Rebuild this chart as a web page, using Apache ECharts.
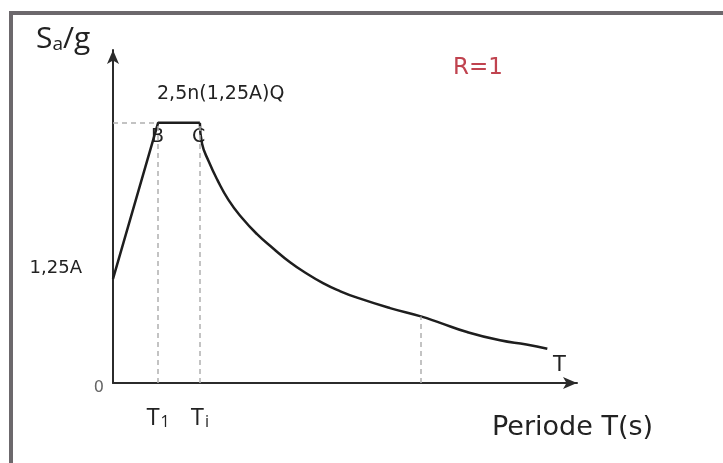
<!DOCTYPE html>
<html>
<head>
<meta charset="utf-8">
<script src="https://cdn.jsdelivr.net/npm/echarts@6/dist/echarts.min.js"></script>
<style>
  html, body { margin: 0; padding: 0; background: #fff; }
  #main { width: 723px; height: 463px; }
</style>
</head>
<body>
<div id="main"></div>
<script>
// spectre de réponse, R=1 (unités arbitraires)
var T1 = 0.41, Ti = 0.79, Tk = 2.8;
var plateau = 2.5;

// montée 0 -> B -> C
var riseT = [0, T1, Ti];
var riseSa = [1.0, plateau, plateau];

// branche descendante après C
var decayT = [0.79, 0.81, 0.87, 0.95, 1.05, 1.17, 1.31, 1.46, 1.61, 1.75, 1.91, 2.06, 2.22, 2.52, 2.8, 2.97, 3.22, 3.52, 3.76, 3.95];
var decaySa = [2.5, 2.3, 2.13, 1.95, 1.76, 1.59, 1.43, 1.29, 1.16, 1.06, 0.96, 0.885, 0.82, 0.72, 0.64, 0.58, 0.49, 0.41, 0.37, 0.33];

// repères des axes
var xTickValues = [T1, Ti];
var xTickLabels = ['{t|T}{s|1}', '{t|T}{s|i}'];
var yTickValues = [0, 1.0];
var yTickLabels = ['{z|0}', '{a|1,25A}'];

function pairs (xs, ys) {
  return xs.map(function (x, i) { return [x, ys[i]]; });
}

var font = 'Open Sans';
var wide = 'DejaVu Sans';
var chart = echarts.init(document.getElementById('main'));

var option = {
  backgroundColor: '#fff',
  animation: false,
  grid: { left: 113, right: 146, top: 50, bottom: 80 },
  xAxis: {
    type: 'value',
    min: 0,
    max: 4.22,
    splitLine: { show: false },
    axisLine: {
      lineStyle: { color: '#2b2b2b', width: 2 },
      symbol: ['none', 'arrow'],
      symbolSize: [9, 14]
    },
    axisTick: { show: false },
    axisLabel: {
      customValues: xTickValues,
      margin: 23,
      formatter: function (v) {
        return xTickLabels[xTickValues.indexOf(v)] || '';
      },
      rich: {
        t: { fontFamily: font, fontSize: 24, color: '#222' },
        s: { fontFamily: font, fontSize: 16, color: '#222', verticalAlign: 'bottom', padding: [8, 0, 0, 1] }
      }
    }
  },
  yAxis: {
    type: 'value',
    min: 0,
    max: 3.2,
    splitLine: { show: false },
    axisLine: {
      lineStyle: { color: '#2b2b2b', width: 2 },
      symbol: ['none', 'arrow'],
      symbolSize: [9, 14]
    },
    axisTick: { show: false },
    axisLabel: {
      customValues: yTickValues,
      margin: 9,
      formatter: function (v) {
        return yTickLabels[yTickValues.indexOf(v)] || '';
      },
      rich: {
        z: { fontFamily: wide, fontSize: 16, color: '#666', padding: [10, 0, 0, 0] },
        a: { fontFamily: wide, fontSize: 18, color: '#222', padding: [0, 22, 22, 0] }
      }
    }
  },
  series: [
    {
      type: 'line',
      data: pairs(riseT, riseSa),
      symbol: 'none',
      lineStyle: { color: '#1e1e1e', width: 2.5 },
      z: 3,
      markLine: {
        silent: true,
        symbol: 'none',
        label: { show: false },
        lineStyle: { color: '#b0b0b0', width: 1.5, type: [5, 4] },
        data: [
          [{ coord: [0, plateau] }, { coord: [T1, plateau] }],
          [{ coord: [T1, 0] }, { coord: [T1, plateau] }],
          [{ coord: [Ti, 0] }, { coord: [Ti, plateau] }],
          [{ coord: [Tk, 0] }, { coord: [Tk, decaySa[decayT.indexOf(Tk)]] }]
        ]
      }
    },
    {
      type: 'line',
      data: pairs(decayT, decaySa),
      symbol: 'none',
      smooth: 0.5,
      lineStyle: { color: '#1e1e1e', width: 2.5 },
      z: 3
    }
  ],
  graphic: [
    // cadre
    {
      type: 'polyline',
      shape: { points: [[11, 463], [11, 13], [723, 13]] },
      style: { stroke: '#6c686c', lineWidth: 4, fill: null }
    },
    {
      type: 'text', left: 36, top: 24,
      style: {
        text: '{S|S}{a|a}{S|/g}',
        rich: {
          S: { fontFamily: font, fontSize: 30, fill: '#222' },
          a: { fontFamily: font, fontSize: 19, fill: '#222', verticalAlign: 'bottom', padding: [6, 0, 0, 0] }
        }
      }
    },
    {
      type: 'text', left: 157, top: 85,
      style: { text: '2,5n(1,25A)Q', font: '19px "DejaVu Sans"', fill: '#222' }
    },
    {
      type: 'text', left: 151, top: 128,
      style: { text: 'B', font: '19px "DejaVu Sans"', fill: '#222' }
    },
    {
      type: 'text', left: 192, top: 128,
      style: { text: 'C', font: '19px "DejaVu Sans"', fill: '#222' }
    },
    {
      type: 'text', left: 453, top: 57,
      style: { text: 'R=1', font: '23px "DejaVu Sans"', fill: '#c0434f' }
    },
    {
      type: 'text', left: 553, top: 355,
      style: { text: 'T', font: '21px "DejaVu Sans"', fill: '#222' }
    },
    {
      type: 'text', left: 492, top: 414,
      style: { text: 'Periode T(s)', font: '27px "DejaVu Sans"', fill: '#222' }
    }
  ]
};

chart.setOption(option);
</script>
</body>
</html>
